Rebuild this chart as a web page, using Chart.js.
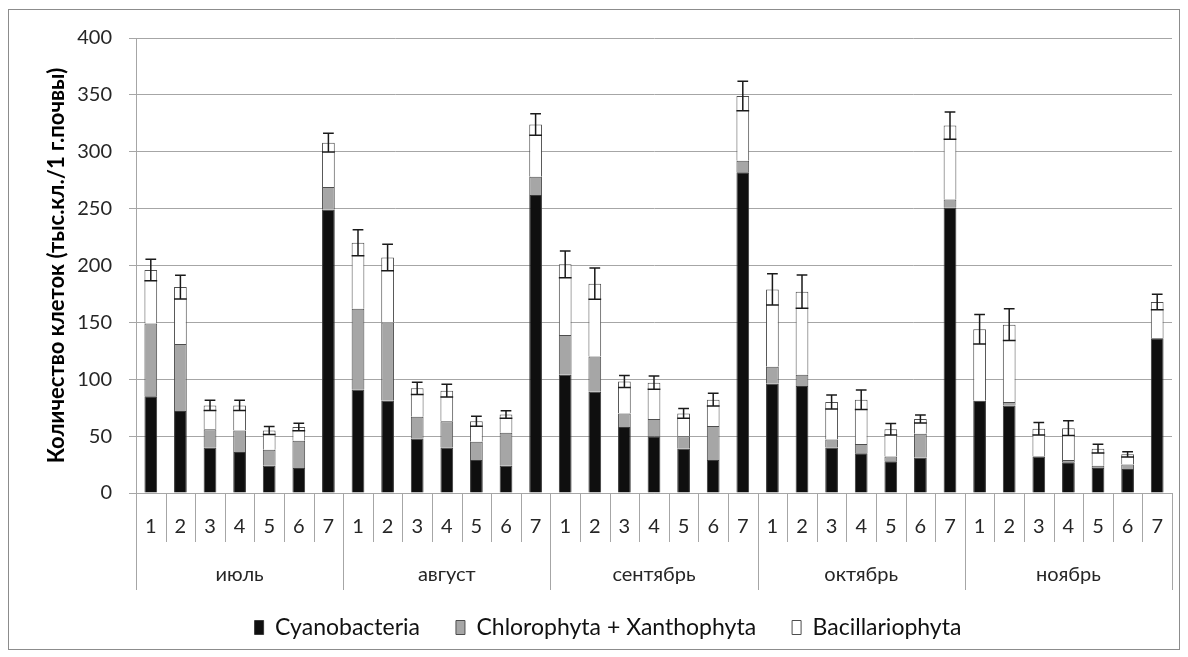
<!DOCTYPE html>
<html>
<head>
<meta charset="utf-8">
<style>
  body { margin: 0; background: #fff; }
  #wrap { position: relative; width: 1188px; height: 657px; }
  #frame { position: absolute; left: 8px; top: 9px; width: 1170px; height: 639px;
           border: 1px solid #8c8c8c; pointer-events: none; }
</style>
</head>
<body>
<div id="wrap">
  <canvas id="myChart" width="1188" height="657"></canvas>
  <div id="frame"></div>
</div>

<script src="https://cdn.jsdelivr.net/npm/chart.js"></script>

<script>
  const months = ["июль", "август", "сентябрь", "октябрь", "ноябрь"];
  const sites = ["1", "2", "3", "4", "5", "6", "7"];

  // values per bar: июль 1-7, август 1-7, сентябрь 1-7, октябрь 1-7, ноябрь 1-7
  const cyanobacteria = [85, 72, 40, 36, 24, 22, 249,
                         91, 81, 48, 40, 29, 24, 262,
                         104, 89, 58, 50, 39, 29, 282,
                         96, 94, 40, 35, 28, 31, 251,
                         81, 77, 32, 27, 22, 21, 136];
  const chlorophyta = [64, 59, 16, 19, 14, 24, 20,
                       71, 69, 19, 23, 16, 29, 16,
                       35, 31, 12, 15, 11, 30, 10,
                       15, 10, 7, 8, 4, 21, 7,
                       0, 3, 0.5, 2, 2, 4, 0];
  const bacillariophyta = [47, 50, 21, 22, 17, 12, 39,
                           58, 57, 25, 27, 18, 16, 46,
                           62, 64, 28, 32, 20, 23, 57,
                           68, 73, 33, 39, 24, 13, 65,
                           63, 68, 24, 28, 15, 9, 32];
  const errors = [9.5, 10.5, 4.5, 4.5, 3.5, 3.3, 8.3,
                  11.4, 11.7, 5.3, 5.5, 4.4, 3.2, 9.5,
                  11.7, 13.7, 5.3, 5.9, 4.3, 5.6, 13,
                  13.7, 14.6, 6.1, 8.5, 5, 3.5, 12,
                  13, 14, 5.5, 6.5, 3.8, 2.3, 6.8];

  var labels = [];
  months.forEach(() => sites.forEach(s => labels.push(s)));

  const font = "Lato";
  const lineCol = "#a6a6a6";

  // error bars on top of each stack + category separators
  const extras = {
    id: 'extras',
    afterLayout(chart) {
      // pull the legend row up a little (wide item spacing makes it too tall)
      chart.legend.top -= 10;
      chart.legend.bottom -= 10;
      chart.legend.left += 22;
      chart.legend.right += 22;
    },
    afterDatasetsDraw(chart) {
      const ctx = chart.ctx;
      const x = chart.scales.x, y = chart.scales.y;
      const meta = chart.getDatasetMeta(2);
      ctx.save();
      ctx.strokeStyle = "#1a1a1a";
      ctx.lineWidth = 1.5;
      errors.forEach((e, i) => {
        const total = cyanobacteria[i] + chlorophyta[i] + bacillariophyta[i];
        const cx = x.getPixelForValue(i);
        const w = meta.data[i].width;
        const yt = y.getPixelForValue(total + e);
        const yb = y.getPixelForValue(total - e);
        ctx.beginPath();
        ctx.moveTo(cx, yt); ctx.lineTo(cx, yb);
        ctx.moveTo(cx - w / 2 + 1, yt); ctx.lineTo(cx + w / 2 - 1, yt);
        ctx.moveTo(cx - w / 2, yb); ctx.lineTo(cx + w / 2, yb);
        ctx.stroke();
      });
      ctx.restore();
    },
    afterDraw(chart) {
      const ctx = chart.ctx;
      const x = chart.scales.x, x2 = chart.scales.x2;
      const step = (x.right - x.left) / labels.length;
      ctx.save();
      ctx.strokeStyle = lineCol;
      ctx.lineWidth = 1;
      for (let i = 0; i <= labels.length; i++) {
        const px = Math.round(x.left + i * step) + 0.5;
        const bottom = (i % sites.length == 0) ? x2.bottom : x.bottom;
        ctx.beginPath();
        ctx.moveTo(px, x.top);
        ctx.lineTo(px, bottom);
        ctx.stroke();
      }
      ctx.restore();
    }
  };

  const ctx = document.getElementById('myChart');
  new Chart(ctx, {
    type: 'bar',
    data: {
      labels: labels,
      datasets: [
        { label: 'Cyanobacteria', data: cyanobacteria, backgroundColor: '#0f0f0f', borderColor: '#3a3a3a', borderWidth: 1 },
        { label: 'Chlorophyta + Xanthophyta', data: chlorophyta, backgroundColor: '#a6a6a6', borderColor: '#4d4d4d', borderWidth: 1 },
        { label: 'Bacillariophyta', data: bacillariophyta, backgroundColor: '#ffffff', borderColor: '#4d4d4d', borderWidth: 1 }
      ]
    },
    plugins: [extras],
    options: {
      responsive: false,
      animation: false,
      events: [],
      layout: { padding: { left: 0, right: 16, top: 38, bottom: -2 } },
      datasets: { bar: { categoryPercentage: 1, barPercentage: 0.43 } },
      plugins: {
        tooltip: { enabled: false },
        legend: {
          position: 'bottom',
          labels: {
            font: { family: font, size: 23 },
            color: '#111',
            boxWidth: 9,
            boxHeight: 14,
            padding: 36
          }
        }
      },
      scales: {
        x: {
          stacked: true,
          grid: { display: false, drawTicks: false },
          border: { display: true, color: lineCol },
          ticks: { font: { family: font, size: 20 }, color: '#262626', padding: 22,
                   autoSkip: false, maxRotation: 0, minRotation: 0 },
          afterFit(scale) { scale.height = 49; }
        },
        x2: {
          type: 'category',
          position: 'bottom',
          labels: months,
          offset: true,
          grid: { display: false, drawTicks: false },
          border: { display: false },
          ticks: { font: { family: font, size: 20 }, color: '#262626', padding: 21,
                   autoSkip: false, maxRotation: 0, minRotation: 0 },
          afterFit(scale) { scale.height = 48; }
        },
        y: {
          stacked: true,
          min: 0,
          max: 400,
          ticks: { stepSize: 50, font: { family: font, size: 20 }, color: '#262626', padding: 17 },
          grid: { color: lineCol, tickLength: 7 },
          border: { color: lineCol },
          title: {
            display: true,
            text: 'Количество клеток (тыс.кл./1 г.почвы)',
            font: { family: font, size: 22, weight: 'bold' },
            color: '#000',
            padding: { top: 44, bottom: 0 }
          },
          afterFit(scale) { scale.width = 136; }
        }
      }
    }
  });
</script>
</body>
</html>
